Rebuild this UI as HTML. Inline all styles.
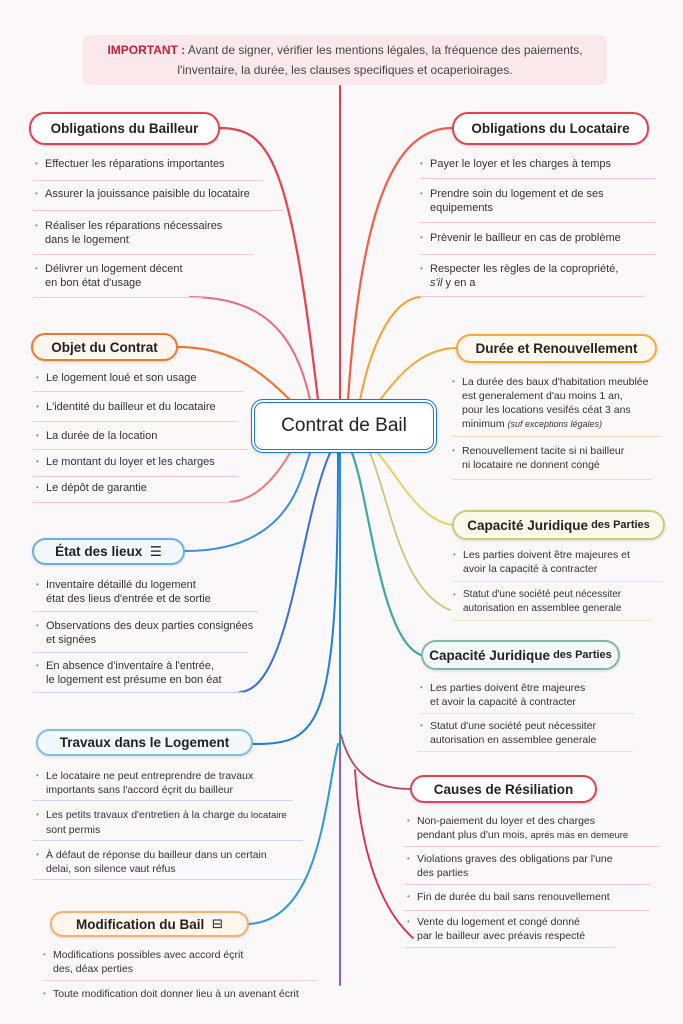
<!DOCTYPE html>
<html><head><meta charset="utf-8"><style>
body{margin:0;width:683px;height:1024px;background:#fbf8fa;font-family:"Liberation Sans","DejaVu Sans",sans-serif;color:#333;position:relative;overflow:hidden}
.a{position:absolute}
.imp{left:83px;top:35px;width:524px;height:50px;background:#fbe8ec;border-radius:8px;text-align:center;font-size:12px;line-height:20px;padding-top:5px;box-sizing:border-box;color:#444}
.imp b{color:#c8203a}
.n{position:absolute;border:2.5px solid;border-radius:16px;background:#fff;font-size:13.5px;font-weight:bold;color:#222;box-sizing:border-box;display:flex;align-items:center;justify-content:center;box-shadow:0 1px 3px rgba(0,0,0,.12)}
.t{position:absolute;font-size:11px;line-height:14px;color:#333;white-space:nowrap}
.t:before{content:"•";position:absolute;left:-10px;font-size:8px;color:#888}
.s{position:absolute;height:1px}
</style></head><body>
<div class="a imp"><b>IMPORTANT :</b> Avant de signer, vérifier les mentions légales, la fréquence des paiements,<br>l'inventaire, la durée, les clauses specifiques et ocaperioirages.</div>
<svg class="a" style="left:0;top:0" width="683" height="1024" fill="none" stroke-linecap="round">
<line x1="340" y1="86" x2="340" y2="400" stroke="#e0404e" stroke-width="2"/>
<line x1="340" y1="453" x2="340" y2="750" stroke="#2a8fd6" stroke-width="2"/>
<line x1="340" y1="750" x2="340" y2="985" stroke="#8a5ad8" stroke-width="2"/>
<path d="M220 128 C270 128 290 160 318 400" stroke="#e8404e" stroke-width="2.2"/>
<path d="M190 297 C260 297 295 330 310 400" stroke="#ee6a86" stroke-width="2"/>
<path d="M452 128 C390 128 360 220 348 400" stroke="#f06048" stroke-width="2.2"/>
<path d="M420 297 C390 300 370 350 360 400" stroke="#f8a030" stroke-width="2"/>
<path d="M178 347 C230 347 260 370 290 400" stroke="#f07830" stroke-width="2.2"/>
<path d="M230 502 C260 500 280 470 290 453" stroke="#f07878" stroke-width="2"/>
<path d="M456 348 C420 348 395 380 380 400" stroke="#f8a838" stroke-width="2"/>
<path d="M185 551 C290 551 300 480 310 453" stroke="#3a8ee0" stroke-width="2"/>
<path d="M240 692 C290 690 300 520 330 453" stroke="#3a6ed8" stroke-width="2"/>
<path d="M452 525 C420 520 400 480 378 453" stroke="#e8d060" stroke-width="2"/>
<path d="M450 610 C400 590 390 500 370 453" stroke="#c8c880" stroke-width="1.8"/>
<path d="M421 655 C380 640 370 500 352 453" stroke="#40a8a0" stroke-width="2.2"/>
<path d="M253 744 C320 744 338 730 338 453" stroke="#2080d8" stroke-width="2"/>
<path d="M249 924 C320 920 325 800 338 744" stroke="#2a9ad8" stroke-width="2"/>
<path d="M410 789 C370 789 350 770 341 735" stroke="#b84a5a" stroke-width="1.8"/>
<path d="M413 938 C370 900 358 820 355 770" stroke="#e02848" stroke-width="1.8"/>
</svg>
<div class="n" style="left:29px;top:112px;width:191px;height:33px;border-color:#e8404e">Obligations du Bailleur</div>
<div class="n" style="left:452px;top:112px;width:197px;height:33px;border-color:#e8404e">Obligations du Locataire</div>
<div class="n" style="left:31px;top:333px;width:147px;height:28px;border-color:#f07830;background:#fff6ef">Objet du Contrat</div>
<div class="n" style="left:456px;top:334px;width:201px;height:29px;border-color:#f8a838;background:#fff8ee">Durée et Renouvellement</div>
<div class="n" style="left:251px;top:399px;width:186px;height:54px;border:4px double #1a78e0;border-radius:12px;font-size:19px;font-weight:normal;color:#222">Contrat de Bail</div>
<div class="n" style="left:452px;top:510px;width:213px;height:30px;border-color:#c8cc80;background:#fafaea">Capacité Juridique <span style="font-size:11px">&nbsp;des Parties</span></div>
<div class="n" style="left:32px;top:538px;width:153px;height:27px;border-color:#6ab0e0;background:#f3f8fd">État des lieux &nbsp;<span style="font-weight:normal">☰</span></div>
<div class="n" style="left:421px;top:640px;width:199px;height:30px;border-color:#80b8a8;background:#f2f9f6">Capacité Juridique <span style="font-size:11px">&nbsp;des Parties</span></div>
<div class="n" style="left:36px;top:729px;width:217px;height:27px;border-color:#80bce4;background:#f3f8fd">Travaux dans le Logement</div>
<div class="n" style="left:410px;top:775px;width:187px;height:28px;border-color:#e8404e">Causes de Résiliation</div>
<div class="n" style="left:50px;top:911px;width:199px;height:26px;border-color:#f8b070;background:#fff6ee">Modification du Bail &nbsp;<span style="font-weight:normal">⊟</span></div>

<div class="t" style="left:45px;top:157px">Effectuer les réparations importantes</div>
<div class="t" style="left:45px;top:187px">Assurer la jouissance paisible du locataire</div>
<div class="t" style="left:45px;top:219px">Réaliser les réparations nécessaires<br>dans le logement</div>
<div class="t" style="left:45px;top:262px">Délivrer un logement décent<br>en bon état d'usage</div>
<div class="s" style="left:33px;top:180px;width:230px;background:#f4c8d0"></div>
<div class="s" style="left:33px;top:210px;width:250px;background:#f4c8d0"></div>
<div class="s" style="left:33px;top:254px;width:220px;background:#f4c8d0"></div>
<div class="s" style="left:33px;top:297px;width:170px;background:#f4c8d0"></div>

<div class="t" style="left:430px;top:157px">Payer le loyer et les charges à temps</div>
<div class="t" style="left:430px;top:187px">Prendre soin du logement et de ses<br>equipements</div>
<div class="t" style="left:430px;top:231px">Prèvenir le bailleur en cas de problème</div>
<div class="t" style="left:430px;top:262px">Respecter les règles de la copropriété,<br><i>s'il</i> y en a</div>
<div class="s" style="left:420px;top:178px;width:235px;background:#f4c8d0"></div>
<div class="s" style="left:420px;top:222px;width:235px;background:#f4c8d0"></div>
<div class="s" style="left:420px;top:254px;width:235px;background:#f4c8d0"></div>
<div class="s" style="left:420px;top:296px;width:225px;background:#f4c8d0"></div>

<div class="t" style="left:46px;top:371px">Le logement loué et son usage</div>
<div class="t" style="left:46px;top:400px">L'identité du bailleur et du locataire</div>
<div class="t" style="left:46px;top:429px">La durée de la location</div>
<div class="t" style="left:46px;top:455px">Le montant du loyer et les charges</div>
<div class="t" style="left:46px;top:481px">Le dépôt de garantie</div>
<div class="s" style="left:33px;top:391px;width:210px;background:#f8c8c8"></div>
<div class="s" style="left:33px;top:421px;width:205px;background:#f8c8c8"></div>
<div class="s" style="left:33px;top:449px;width:215px;background:#f8c8c8"></div>
<div class="s" style="left:33px;top:476px;width:205px;background:#f8c8c8"></div>
<div class="s" style="left:33px;top:502px;width:200px;background:#f8c8c8"></div>

<div class="t" style="left:462px;top:375px;font-size:10.5px">La durée des baux d'habitation meublée<br>est generalement d'au moins 1 an,<br>pour les locations vesifés céat 3 ans<br>minimum <i style="font-size:9px">(suf exceptions légales)</i></div>
<div class="t" style="left:462px;top:444px;font-size:10.5px">Renouvellement tacite si ni bailleur<br>ni locataire ne donnent congé</div>
<div class="s" style="left:452px;top:436px;width:210px;background:#f8dcc0"></div>
<div class="s" style="left:452px;top:479px;width:200px;background:#f8dcc0"></div>

<div class="t" style="left:463px;top:548px;font-size:10.5px">Les parties doivent être majeures et<br>avoir la capacité à contracter</div>
<div class="t" style="left:463px;top:588px;font-size:10px">Statut d'une société peut nécessiter<br>autorisation en assemblee generale</div>
<div class="s" style="left:452px;top:581px;width:210px;background:#e8e8c8"></div>
<div class="s" style="left:452px;top:620px;width:200px;background:#e8e8c8"></div>

<div class="t" style="left:46px;top:578px">Inventaire détaillé du logement<br>état des lieus d'entrée et de sortie</div>
<div class="t" style="left:46px;top:619px">Observations des deux parties consignées<br>et signées</div>
<div class="t" style="left:46px;top:659px">En absence d'inventaire à l'entrée,<br>le logement est présume en bon éat</div>
<div class="s" style="left:33px;top:611px;width:225px;background:#c8d4f0"></div>
<div class="s" style="left:33px;top:652px;width:215px;background:#c8d4f0"></div>
<div class="s" style="left:33px;top:692px;width:210px;background:#c8d4f0"></div>

<div class="t" style="left:430px;top:681px;font-size:10.5px">Les parties doivent être majeures<br>et avoir la capacité à contracter</div>
<div class="t" style="left:430px;top:719px;font-size:10.5px">Statut d'une société peut nécessiter<br>autorisation en assemblee generale</div>
<div class="s" style="left:420px;top:713px;width:215px;background:#dde6e2"></div>
<div class="s" style="left:418px;top:751px;width:215px;background:#dde6e2"></div>

<div class="t" style="left:46px;top:769px;font-size:10.5px">Le locataire ne peut entreprendre de travaux<br>importants sans l'accord éçrit du bailleur</div>
<div class="t" style="left:46px;top:808px;font-size:10.5px">Les petits travaux d'entretien à la charge <span style="font-size:9.5px">du locataire</span><br>sont permis</div>
<div class="t" style="left:46px;top:848px;font-size:10.5px">À défaut de réponse du bailleur dans un certain<br>delai, son silence vaut réfus</div>
<div class="s" style="left:33px;top:800px;width:260px;background:#c8d8f0"></div>
<div class="s" style="left:33px;top:840px;width:270px;background:#c8d8f0"></div>
<div class="s" style="left:33px;top:879px;width:270px;background:#c8d8f0"></div>

<div class="t" style="left:417px;top:814px;font-size:10.5px">Non-paiement du loyer et des charges<br>pendant plus d'un mois, <span style="font-size:9.5px">aprés más en demeure</span></div>
<div class="t" style="left:417px;top:852px;font-size:10.5px">Violations graves des obligations par l'une<br>des parties</div>
<div class="t" style="left:417px;top:890px;font-size:10.5px">Fin de durée du bail sans renouvellement</div>
<div class="t" style="left:417px;top:915px;font-size:10.5px">Vente du logement et congé donné<br>par le bailleur avec préavis respecté</div>
<div class="s" style="left:405px;top:846px;width:255px;background:#f4c8d0"></div>
<div class="s" style="left:405px;top:884px;width:245px;background:#f4c8d0"></div>
<div class="s" style="left:405px;top:910px;width:245px;background:#f4c8d0"></div>
<div class="s" style="left:405px;top:947px;width:210px;background:#f4c8d0"></div>

<div class="t" style="left:53px;top:948px;font-size:10.5px">Modifications possibles avec accord éçrit<br>des, déax perties</div>
<div class="t" style="left:53px;top:987px;font-size:10.5px">Toute modification doit donner lieu à un avenant écrit</div>
<div class="s" style="left:42px;top:980px;width:275px;background:#f4d0d0"></div>
</body></html>
